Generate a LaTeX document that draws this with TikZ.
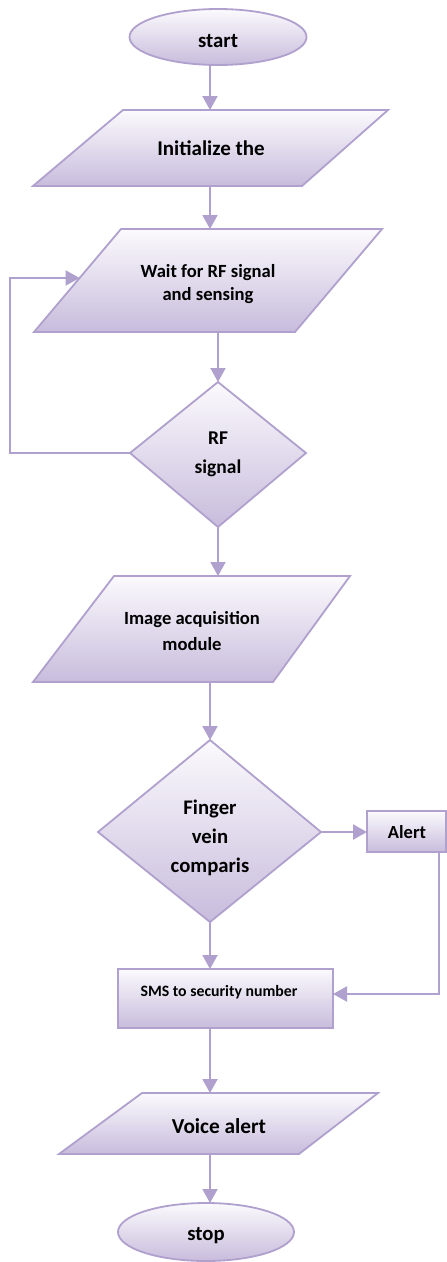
\documentclass[tikz,border=0pt]{standalone}
\usepackage{fontspec}
\setmainfont{Carlito}
\usetikzlibrary{arrows.meta}
\definecolor{edgec}{RGB}{176,160,205}
\definecolor{filltop}{RGB}{251,250,253}
\definecolor{fillbot}{RGB}{200,188,220}
\newcommand{\fs}[2]{\fontsize{#1}{#2}\selectfont}
\begin{document}
\begin{tikzpicture}[x=1pt,y=-1pt,
  shapebox/.style={draw=edgec,line width=1.8pt,top color=filltop,bottom color=fillbot},
  conn/.style={draw=edgec,line width=2pt,-{Triangle[width=15pt,length=14pt]}},
  lbl/.style={font=\bfseries, align=center, inner sep=0pt, text=black}]
\useasboundingbox (0,0) rectangle (447,1262);

% start
\draw[shapebox] (218,37) ellipse [x radius=88.5pt, y radius=28pt];
\node[lbl, font=\bfseries\fs{20.8}{24}] (start) at (218,40.9) {start};
\coordinate (startS) at (210,65);

% initialize
\draw[shapebox] (123,110) -- (388,110) -- (302,186) -- (33,186) -- cycle;
\node[lbl, font=\bfseries\fs{21}{24}] (init) at (211,147.8) {Initialize the};
\coordinate (initN) at (210,110);
\coordinate (initS) at (210,186);

% wait
\draw[shapebox] (121,229) -- (382,229) -- (295,332) -- (34,332) -- cycle;
\node[lbl, font=\bfseries\fs{18.6}{23}] (wait) at (208,284) {Wait for RF signal\\and sensing};
\coordinate (waitN) at (210,229);
\coordinate (waitS) at (218,332);
\coordinate (waitW) at (79.6,278);

% RF decision
\draw[shapebox] (218,382) -- (306,453) -- (218,527) -- (130,453) -- cycle;
\node[lbl, font=\bfseries\fs{19.5}{29}] (rf) at (218,454.3) {RF\\signal};
\coordinate (rfN) at (218,382);
\coordinate (rfS) at (218,527);
\coordinate (rfW) at (130,453);
\coordinate (loopA) at (10,453);

% image acquisition
\draw[shapebox] (114,576) -- (350,576) -- (273,682) -- (33,682) -- cycle;
\node[lbl, font=\bfseries\fs{18.6}{26}] (img) at (192,630.8) {Image acquisition\\module};
\coordinate (imgN) at (218,576);
\coordinate (imgS) at (210,682);

% finger vein comparison
\draw[shapebox] (210,740) -- (321,832) -- (210,922) -- (98,832) -- cycle;
\node[lbl, font=\bfseries\fs{20.7}{29}] (cmp) at (210,837.5) {Finger\\vein\\comparis};
\coordinate (cmpN) at (210,740);
\coordinate (cmpS) at (210,922);
\coordinate (cmpE) at (321,832);

% alert
\draw[shapebox] (367,811) rectangle (446,852);
\node[lbl, font=\bfseries\fs{18.5}{22}] (alert) at (407,832.5) {Alert};
\coordinate (alertW) at (367,832);
\coordinate (alertS) at (439,852);

% SMS
\draw[shapebox] (118,969) rectangle (333,1028);
\node[lbl, font=\bfseries\fs{15.8}{19}] (sms) at (219,992) {SMS to security number};
\coordinate (smsN) at (210,969);
\coordinate (smsS) at (210,1028);
\coordinate (smsE) at (333,994);

% voice alert
\draw[shapebox] (142,1093) -- (378,1093) -- (299,1154) -- (59,1154) -- cycle;
\node[lbl, font=\bfseries\fs{21.3}{25}] (voice) at (219,1126.5) {Voice alert};
\coordinate (voiceN) at (210,1093);
\coordinate (voiceS) at (210,1154);

% stop
\draw[shapebox] (206,1232) ellipse [x radius=88pt, y radius=29pt];
\node[lbl, font=\bfseries\fs{20.7}{24}] (stop) at (206,1235.9) {stop};
\coordinate (stopN) at (210,1203);

% connectors
\draw[conn] (startS) -- (initN);
\draw[conn] (initS) -- (waitN);
\draw[conn] (waitS) -- (rfN);
\draw[conn] (rfW) -- (loopA) |- (waitW);
\draw[conn] (rfS) -- (imgN);
\draw[conn] (imgS) -- (cmpN);
\draw[conn] (cmpE) -- (alertW);
\draw[conn] (alertS) |- (smsE);
\draw[conn] (cmpS) -- (smsN);
\draw[conn] (smsS) -- (voiceN);
\draw[conn] (voiceS) -- (stopN);
\end{tikzpicture}
\end{document}
